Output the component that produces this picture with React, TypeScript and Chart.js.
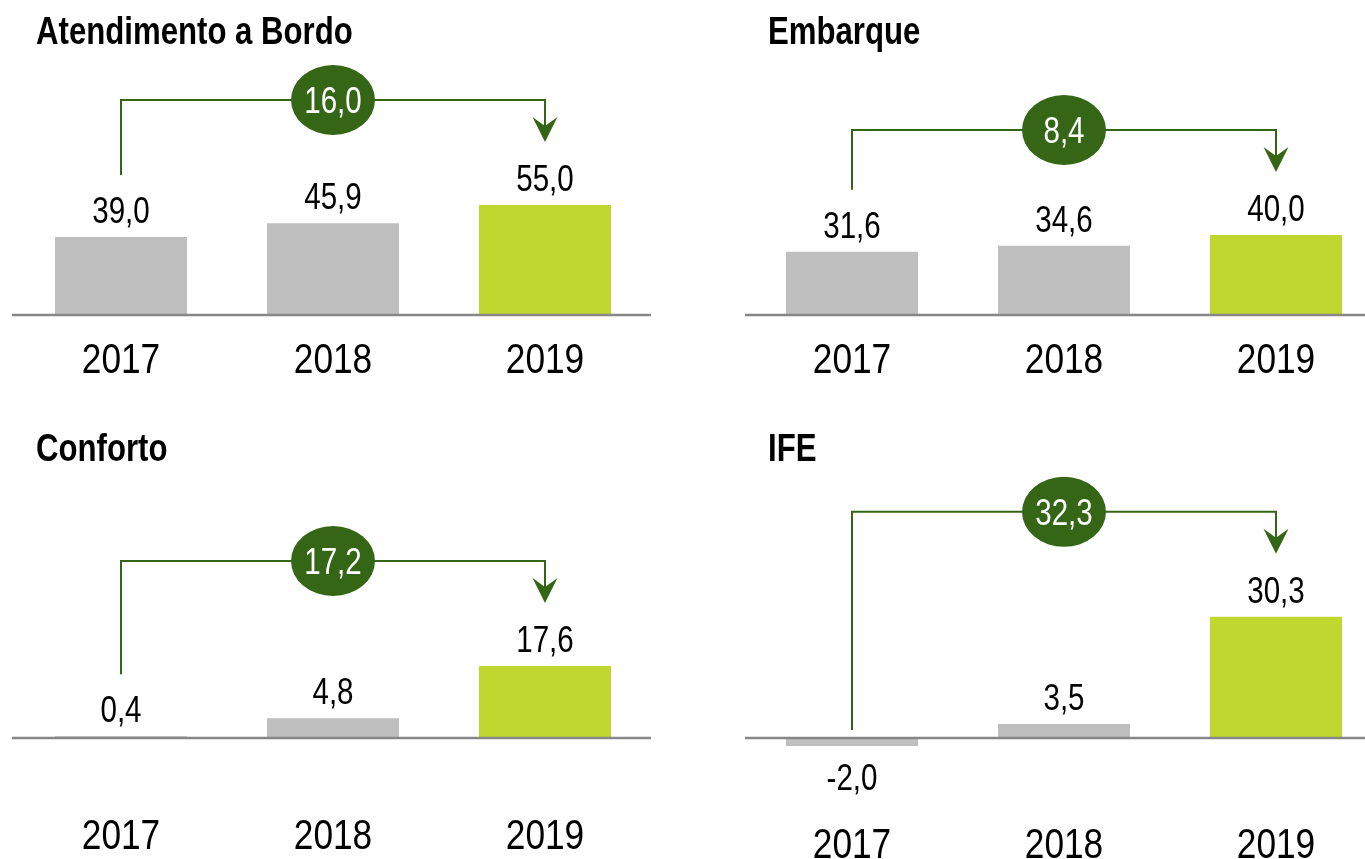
import React, { useEffect, useRef } from 'react';
import { Chart, registerables } from 'chart.js';

Chart.register(...registerables);

// ---------- data ----------
const years = ['2017', '2018', '2019'];
const titles = ['Atendimento a Bordo', 'Embarque', 'Conforto', 'IFE'];
const atendimento = [39.0, 45.9, 55.0];
const embarque = [31.6, 34.6, 40.0];
const conforto = [0.4, 4.8, 17.6];
const ife = [-2.0, 3.5, 30.3];
const seriesList = [atendimento, embarque, conforto, ife];

// ---------- styles ----------
const FAMILY = '"Liberation Sans", Arial, "DejaVu Sans", sans-serif';
const NARROW = 0.82; // horizontal compression to mimic Arial Narrow
const GRAY = '#BFBFBF';
const LIME = '#C0D72F';
const DARK = '#346616';
const AXIS = '#878787';

type Layout = {
  left: number; top: number; width: number; height: number;
  padLeft: number; padRight: number; padTop: number; lineLeft: number;
  zeroY: number; ppu: number; yMin: number; yearOffset: number;
  titleX: number; titleY: number;
};

const layouts: Layout[] = [
  { left: 0, top: 0, width: 682, height: 420, padLeft: 15, padRight: 31, padTop: 60, lineLeft: 12, zeroY: 315, ppu: 2.0, yMin: 0, yearOffset: 58, titleX: 36, titleY: 44 },
  { left: 682, top: 0, width: 720, height: 420, padLeft: 64, padRight: 20, padTop: 60, lineLeft: 63, zeroY: 315, ppu: 2.0, yMin: 0, yearOffset: 58, titleX: 86, titleY: 44 },
  { left: 0, top: 420, width: 682, height: 439, padLeft: 15, padRight: 31, padTop: 60, lineLeft: 12, zeroY: 318, ppu: 4.09, yMin: 0, yearOffset: 111, titleX: 36, titleY: 41 },
  { left: 682, top: 420, width: 720, height: 439, padLeft: 64, padRight: 20, padTop: 60, lineLeft: 63, zeroY: 318, ppu: 4.0, yMin: -2, yearOffset: 112, titleX: 86, titleY: 41 },
];

const fmt = (v: number) => v.toFixed(1).replace('.', ',');

function narrowText(ctx: any, text: string, x: number, y: number, font: string, color: string, align: string) {
  ctx.save();
  ctx.translate(x, y);
  ctx.scale(NARROW, 1);
  ctx.font = font;
  ctx.fillStyle = color;
  ctx.textAlign = align;
  ctx.textBaseline = 'alphabetic';
  ctx.fillText(text, 0, 0);
  ctx.restore();
}

const annotPlugin = {
  id: 'annot',
  afterDatasetsDraw(chart: any, _args: any, opts: any) {
    const { ctx, chartArea } = chart;
    const yS = chart.scales.y;
    const xS = chart.scales.x;
    const values: number[] = opts.values;
    const meta = chart.getDatasetMeta(0);
    const zy = yS.getPixelForValue(0);
    const bottom = yS.getPixelForValue(yS.min);
    ctx.save();
    // zero line
    ctx.strokeStyle = AXIS;
    ctx.lineWidth = 2.5;
    ctx.beginPath();
    ctx.moveTo(opts.lineLeft, zy);
    ctx.lineTo(chartArea.right, zy);
    ctx.stroke();

    // year labels (category axis positions)
    years.forEach((yr, i) => {
      narrowText(ctx, yr, xS.getPixelForValue(i), bottom + opts.yearOffset, `43px ${FAMILY}`, '#000', 'center');
    });

    // value labels
    meta.data.forEach((bar: any, i: number) => {
      const v = values[i];
      const y = v >= 0 ? bar.y - 14 : bar.y + 44;
      narrowText(ctx, fmt(v), bar.x, y, `36px ${FAMILY}`, '#000', 'center');
    });

    // bracket
    const b0 = meta.data[0];
    const b2 = meta.data[values.length - 1];
    const x0 = b0.x;
    const x2 = b2.x;
    const xm = (x0 + x2) / 2;
    const lastTop = b2.y;
    const by = lastTop - 105;
    const startY = values[0] >= 0 ? b0.y - 62 : zy - 8;
    const tipY = lastTop - 63;
    ctx.strokeStyle = DARK;
    ctx.lineWidth = 2;
    ctx.beginPath();
    ctx.moveTo(x0, startY);
    ctx.lineTo(x0, by);
    ctx.lineTo(x2, by);
    ctx.lineTo(x2, tipY - 14);
    ctx.stroke();
    // arrow head
    ctx.fillStyle = DARK;
    ctx.beginPath();
    ctx.moveTo(x2, tipY);
    ctx.lineTo(x2 - 12.5, tipY - 25);
    ctx.lineTo(x2, tipY - 16);
    ctx.lineTo(x2 + 12.5, tipY - 25);
    ctx.closePath();
    ctx.fill();
    // bubble
    ctx.beginPath();
    ctx.ellipse(xm, by, 42, 35, 0, 0, Math.PI * 2);
    ctx.fill();
    const delta = values[values.length - 1] - values[0];
    narrowText(ctx, fmt(delta), xm, by + 13, `36px ${FAMILY}`, '#fff', 'center');
    ctx.restore();

    // title
    narrowText(ctx, opts.title, opts.titleX, opts.titleY, `bold 38px ${FAMILY}`, '#000', 'left');
  },
};

function Panel({ idx }: { idx: number }) {
  const ref = useRef<HTMLCanvasElement | null>(null);
  const L = layouts[idx];
  useEffect(() => {
    const values = seriesList[idx];
    const bottomY = L.zeroY - L.yMin * L.ppu;
    const yMax = (L.zeroY - L.padTop) / L.ppu;
    const chart = new Chart(ref.current as HTMLCanvasElement, {
      type: 'bar',
      data: {
        labels: years,
        datasets: [
          {
            data: values,
            backgroundColor: [GRAY, GRAY, LIME],
            borderWidth: 0,
            barPercentage: 1,
            categoryPercentage: 132 / 212,
          },
        ],
      },
      options: {
        responsive: false,
        animation: false,
        events: [],
        layout: { padding: { left: L.padLeft, right: L.padRight, top: L.padTop, bottom: L.height - bottomY } },
        plugins: {
          legend: { display: false },
          tooltip: { enabled: false },
          annot: { values, title: titles[idx], titleX: L.titleX, titleY: L.titleY, yearOffset: L.yearOffset, lineLeft: L.lineLeft },
        } as any,
        scales: {
          x: { display: false },
          y: { display: false, min: L.yMin, max: yMax },
        },
      },
      plugins: [annotPlugin],
    });
    return () => chart.destroy();
  }, [idx]);
  return (
    <canvas
      ref={ref}
      width={L.width}
      height={L.height}
      style={{ position: 'absolute', left: L.left, top: L.top, width: L.width, height: L.height }}
    />
  );
}

export default function App() {
  return (
    <div
      style={{
        position: 'absolute',
        left: 0,
        top: 0,
        width: 1365,
        height: 859,
        overflow: 'hidden',
        background: '#fff',
      }}
    >
      {[0, 1, 2, 3].map((i) => (
        <Panel key={i} idx={i} />
      ))}
    </div>
  );
}
